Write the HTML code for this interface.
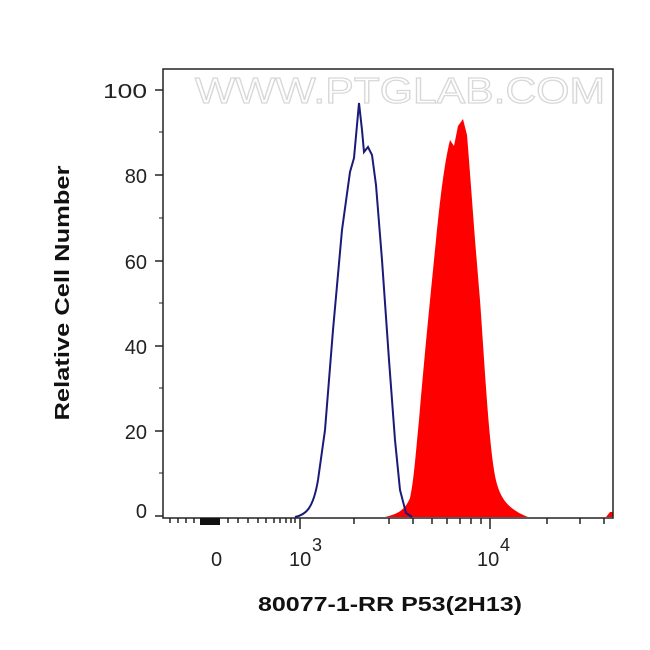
<!DOCTYPE html>
<html><head><style>
body{margin:0;background:#fff;}
svg text{font-family:"Liberation Sans",Arial,sans-serif;}
</style></head><body>
<svg width="650" height="645" viewBox="0 0 650 645" xmlns="http://www.w3.org/2000/svg">
<rect width="650" height="645" fill="#fff"/>
<text x="400" y="103" font-size="36" text-anchor="middle" fill="#fff" stroke="#d8d8d8" stroke-width="1.2" textLength="410" lengthAdjust="spacingAndGlyphs">WWW.PTGLAB.COM</text>
<path d="M385,517 C398,514 405,510 410,498 C414,480 416,450 419,420 C424,360 430,300 436,240 C440,200 444,165 450,140 L454,146 L458,126 L463,119 L467,135 C470,170 474,230 480,300 C485,370 488,430 494,470 C498,495 505,508 528,517 Z" fill="#ff0000"/>
<path d="M606,517 L610,512 L613,512 L613,517 Z" fill="#ff0000"/>
<path d="M295,517 C305,515 313,510 318,480 L325,430 L333,330 L342,230 L350,172 L354,158 L359,103 L362,130 L364,152 L368,147 L372,155 L376,185 L382,260 L389,360 L395,440 L400,490 L406,513 L412,517" fill="none" stroke="#1a1a7a" stroke-width="2"/>
<rect x="163" y="69" width="450" height="449" fill="none" stroke="#222" stroke-width="1.5"/>
<g stroke="#222" stroke-width="1.5">
<line x1="155" y1="90" x2="163" y2="90"/><line x1="155" y1="175" x2="163" y2="175"/><line x1="155" y1="261" x2="163" y2="261"/><line x1="155" y1="346" x2="163" y2="346"/><line x1="155" y1="431" x2="163" y2="431"/><line x1="155" y1="516" x2="163" y2="516"/>
</g>
<g stroke="#222" stroke-width="1">
<line x1="159" y1="132" x2="163" y2="132"/><line x1="159" y1="218" x2="163" y2="218"/><line x1="159" y1="303" x2="163" y2="303"/><line x1="159" y1="388" x2="163" y2="388"/><line x1="159" y1="473" x2="163" y2="473"/>
</g>
<g stroke="#222" stroke-width="1.5">
<line x1="300" y1="518" x2="300" y2="529"/><line x1="490" y1="518" x2="490" y2="529"/>
<line x1="354" y1="518" x2="354" y2="524"/><line x1="389" y1="518" x2="389" y2="524"/><line x1="413" y1="518" x2="413" y2="524"/><line x1="432" y1="518" x2="432" y2="524"/><line x1="447" y1="518" x2="447" y2="524"/><line x1="460" y1="518" x2="460" y2="524"/><line x1="471" y1="518" x2="471" y2="524"/><line x1="481" y1="518" x2="481" y2="524"/>
<line x1="547" y1="518" x2="547" y2="524"/><line x1="580" y1="518" x2="580" y2="524"/><line x1="604" y1="518" x2="604" y2="524"/>
<line x1="170" y1="518" x2="170" y2="523"/><line x1="178" y1="518" x2="178" y2="523"/><line x1="186" y1="518" x2="186" y2="523"/><line x1="194" y1="518" x2="194" y2="523"/>
<line x1="228" y1="518" x2="228" y2="523"/><line x1="238" y1="518" x2="238" y2="523"/><line x1="248" y1="518" x2="248" y2="523"/><line x1="258" y1="518" x2="258" y2="523"/><line x1="266" y1="518" x2="266" y2="523"/><line x1="274" y1="518" x2="274" y2="523"/><line x1="280" y1="518" x2="280" y2="523"/><line x1="286" y1="518" x2="286" y2="523"/><line x1="291" y1="518" x2="291" y2="523"/><line x1="295" y1="518" x2="295" y2="523"/>
</g>
<rect x="200" y="518" width="20" height="7" fill="#111"/>
<g font-size="20" fill="#222" text-anchor="end">
<text x="147" y="98" textLength="44" lengthAdjust="spacingAndGlyphs">100</text><text x="147" y="183">80</text><text x="147" y="269">60</text><text x="147" y="354">40</text><text x="147" y="439">20</text><text x="147" y="518">0</text>
</g>
<g font-size="20" fill="#222">
<text x="211" y="566">0</text>
<text x="289" y="566">10</text><text x="312" y="551" font-size="18">3</text>
<text x="477" y="566">10</text><text x="500" y="551" font-size="18">4</text>
</g>
<text x="390" y="611" font-size="20" font-weight="bold" text-anchor="middle" fill="#111" textLength="264" lengthAdjust="spacingAndGlyphs">80077-1-RR P53(2H13)</text>
<text transform="translate(69,293) rotate(-90)" font-size="20" font-weight="bold" text-anchor="middle" fill="#111" textLength="255" lengthAdjust="spacingAndGlyphs">Relative Cell Number</text>
</svg>
</body></html>
